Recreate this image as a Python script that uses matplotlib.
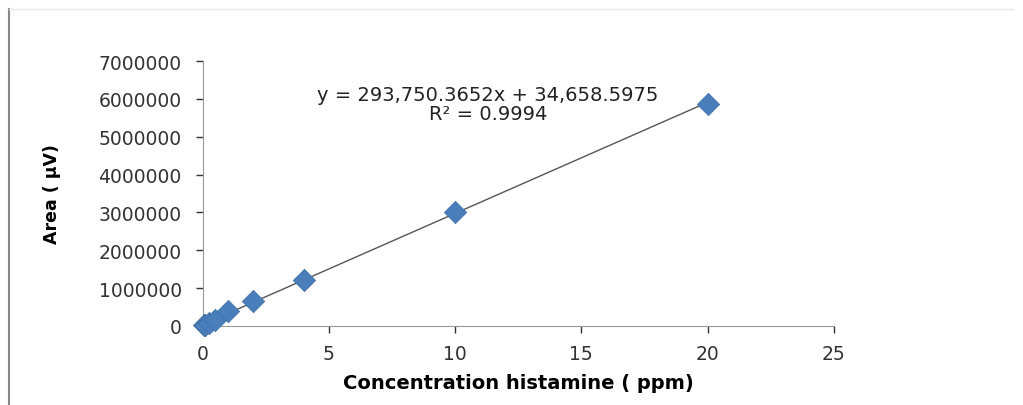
import numpy as np
import matplotlib
matplotlib.use("Agg")
import matplotlib.pyplot as plt
from matplotlib.lines import Line2D

# calibration points (concentration ppm, peak area)
conc = [0.05, 0.1, 0.25, 0.5, 1, 2, 4, 10, 20]
area = [15000, 35000, 80000, 150000, 396000, 660000, 1215000, 3010000, 5870000]

slope = 293750.3652
intercept = 34658.5975
eq_text = "y = 293,750.3652x + 34,658.5975\nR² = 0.9994"

x_ticks = [0, 5, 10, 15, 20, 25]
y_ticks = [0, 1000000, 2000000, 3000000, 4000000, 5000000, 6000000, 7000000]

fig = plt.figure(figsize=(10.23, 4.06), dpi=100)
ax = fig.add_axes([0.198, 0.195, 0.617, 0.652])

# trendline over the data range
xs = np.array([min(conc), max(conc)])
ax.plot(xs, slope * xs + intercept, color='#555555', lw=1, zorder=2)
ax.scatter(conc, area, marker='D', s=130, color='#4A7EBB', edgecolors='#3C6CA5',
           linewidths=0.5, zorder=3, clip_on=False)

ax.set_xlim(0, 25)
ax.set_ylim(0, 7000000)
ax.set_xticks(x_ticks)
ax.set_yticks(y_ticks)
ax.set_yticklabels([str(v) for v in y_ticks])
ax.tick_params(axis='both', labelsize=13.5, colors='#333333', length=5, width=1,
               pad=10)
ax.tick_params(axis='x', pad=8)
for sp in ['top', 'right']:
    ax.spines[sp].set_visible(False)
for sp in ['left', 'bottom']:
    ax.spines[sp].set_color('#999999')

ax.set_xlabel('Concentration histamine ( ppm)', fontsize=14, fontweight='bold',
              labelpad=7)
ax.set_ylabel('Area ( µV)', fontsize=12.5, fontweight='bold',
              family=['Liberation Sans Narrow', 'DejaVu Sans'], labelpad=27)

ax.text(11.3, 5870000, eq_text, ha='center', va='center', fontsize=14,
        linespacing=1.0, color='#222222')

# frame of the original screenshot
fig.add_artist(Line2D([0.009, 0.009], [0.0, 0.975], color='#888888', lw=1.5))
fig.add_artist(Line2D([0.009, 0.99], [0.975, 0.975], color='#e6e6e6', lw=1))

fig.savefig('out.png', dpi=100)
